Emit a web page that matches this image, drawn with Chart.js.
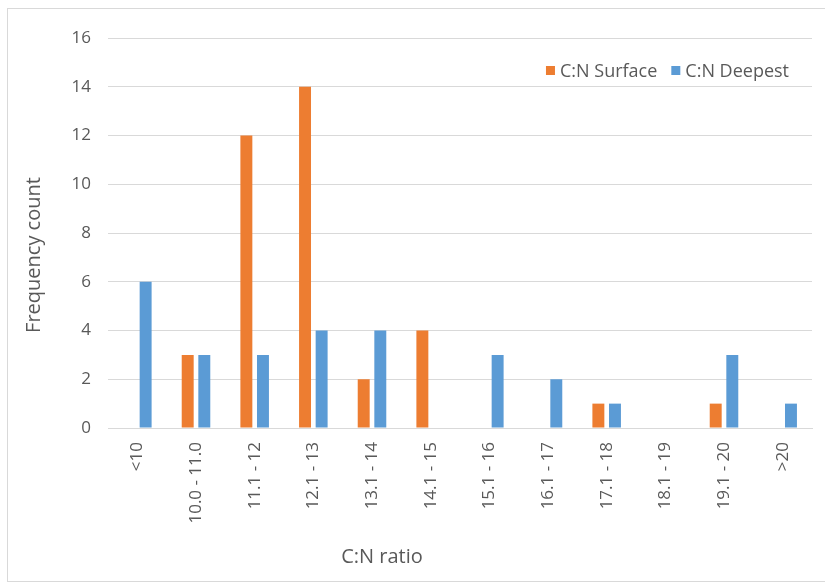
<!DOCTYPE html>
<html>
<head>
<meta charset="utf-8">
<script src="https://cdn.jsdelivr.net/npm/chart.js@4/dist/chart.umd.min.js"></script>
<style>
  html, body { margin: 0; padding: 0; background: #ffffff; }
  #wrap { position: relative; width: 825px; height: 585px; }
  #frame { position: absolute; left: 7px; top: 8px; width: 830px; height: 574px;
           border: 1px solid #d9d9d9; box-sizing: border-box; pointer-events: none; }
  canvas { position: absolute; left: 0; top: 0; }
</style>
</head>
<body>
<div id="wrap">
  <canvas id="c" width="825" height="585"></canvas>
  <div id="frame"></div>
</div>
<script>
// C:N ratio classes
const categories = ['<10', '10.0 - 11.0', '11.1 - 12', '12.1 - 13', '13.1 - 14', '14.1 - 15',
                    '15.1 - 16', '16.1 - 17', '17.1 - 18', '18.1 - 19', '19.1 - 20', '>20'];
// frequency counts per class
const surfaceCounts = [0, 3, 12, 14, 2, 4, 0, 0, 1, 0, 1, 0];
const deepestCounts = [6, 3, 3, 4, 4, 0, 3, 2, 1, 0, 3, 1];
const seriesNames = ['C:N Surface', 'C:N Deepest'];
const yTicks = [0, 2, 4, 6, 8, 10, 12, 14, 16];
const xTitle = 'C:N ratio';
const yTitle = 'Frequency count';

const FONT = '"Open Sans", Lato, "Liberation Sans", sans-serif';
const TEXT = '#595959';
const GRID = '#d9d9d9';

// axis titles and the legend, placed in the free space around the plot
const decor = {
  id: 'decor',
  afterDraw(chart) {
    const ctx = chart.ctx;
    ctx.save();
    ctx.fillStyle = TEXT;
    ctx.font = '20px ' + FONT;
    ctx.textAlign = 'center';
    ctx.textBaseline = 'alphabetic';
    ctx.fillText(xTitle, 382, 563);
    ctx.translate(40, 255);
    ctx.rotate(-Math.PI / 2);
    ctx.fillText(yTitle, 0, 0);
    ctx.restore();

    // legend, right-aligned inside the top of the plot
    ctx.save();
    ctx.font = '18px ' + FONT;
    ctx.textBaseline = 'alphabetic';
    ctx.textAlign = 'left';
    const box = 9, gapBox = 5, gapItem = 14, base = 77;
    const items = chart.data.datasets.map(d => ({ label: d.label, color: d.backgroundColor }));
    const widths = items.map(it => box + gapBox + ctx.measureText(it.label).width);
    const total = widths.reduce((a, b) => a + b, 0) + gapItem * (items.length - 1);
    let x = 789 - total;
    items.forEach((it, i) => {
      ctx.fillStyle = it.color;
      ctx.fillRect(x, 66, box, box);
      ctx.fillStyle = TEXT;
      ctx.fillText(it.label, x + box + gapBox, base);
      x += widths[i] + gapItem;
    });
    ctx.restore();
  }
};

new Chart(document.getElementById('c'), {
  type: 'bar',
  data: {
    labels: categories,
    datasets: [
      { label: seriesNames[0], data: surfaceCounts, backgroundColor: '#ed7d31',
        categoryPercentage: 0.566, barPercentage: 0.72 },
      { label: seriesNames[1], data: deepestCounts, backgroundColor: '#5b9bd5',
        categoryPercentage: 0.566, barPercentage: 0.72 }
    ]
  },
  options: {
    responsive: false,
    animation: false,
    events: [],
    layout: { padding: { left: 0, right: 13, top: 38, bottom: 0 } },
    plugins: { legend: { display: false }, tooltip: { enabled: false }, title: { display: false } },
    scales: {
      x: {
        grid: { display: false, drawTicks: false },
        border: { display: true, color: GRID, width: 1 },
        ticks: { color: TEXT, font: { family: FONT, size: 17 }, minRotation: 90, maxRotation: 90,
                 padding: 14, autoSkip: false },
        afterFit(scale) { scale.height = 157; }
      },
      y: {
        min: yTicks[0],
        max: yTicks[yTicks.length - 1],
        afterBuildTicks(scale) { scale.ticks = yTicks.map(v => ({ value: v })); },
        grid: { color: GRID, lineWidth: 1, drawTicks: false },
        border: { display: false },
        ticks: { color: TEXT, font: { family: FONT, size: 17 }, padding: 17 },
        afterFit(scale) { scale.width = 108; }
      }
    }
  },
  plugins: [decor]
});
</script>
</body>
</html>
